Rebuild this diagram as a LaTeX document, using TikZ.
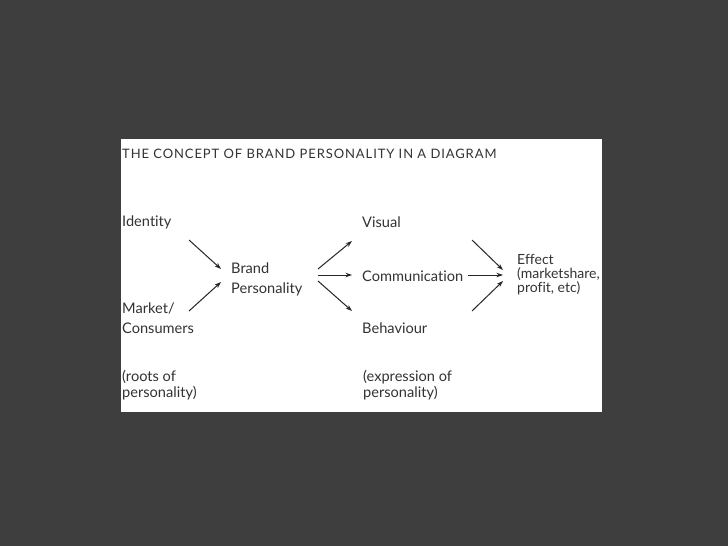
\documentclass[tikz,border=0pt]{standalone}
\usepackage{fontspec}
\setmainfont{Lato}[Ligatures=NoCommon]
\usetikzlibrary{arrows.meta}
\definecolor{slide}{HTML}{3E3E3E}
\definecolor{ink}{HTML}{333333}
\tikzset{
  lbl/.style ={anchor=base west,align=left,inner sep=0pt,text=ink,
               font=\fontsize{14.6}{20}\selectfont},
  ttl/.style ={anchor=base west,inner sep=0pt,text=ink,
               font=\fontsize{13}{14}\selectfont\addfontfeatures{LetterSpace=7}},
  a/.style   ={-{Stealth[length=6.5pt,width=4.5pt]},line width=1pt,black!85},
}

\begin{document}
\begin{tikzpicture}[x=1pt,y=-1pt]
  \fill[slide] (0,0) rectangle (728,546);
  \fill[white] (121,139) rectangle (602,412);

  % title
  \node[ttl] (title) at (122,158) {THE CONCEPT OF BRAND PERSONALITY IN A DIAGRAM};

  % roots
  \node[lbl] (ident) at (122,226) {Identity};
  \node[lbl] (market) at (122,333) {Market/\\Consumers};
  \node[lbl,font=\fontsize{14.6}{15.5}\selectfont] (roots) at (122,397) {(roots of\\personality)};

  % brand
  \node[lbl] (brand) at (231,293) {Brand\\Personality};

  % expression
  \node[lbl] (visual) at (362,227) {Visual};
  \node[lbl] (comm) at (362,281) {Communication};
  \node[lbl] (behav) at (362,333) {Behaviour};
  \node[lbl,font=\fontsize{14.6}{15.5}\selectfont] (expr) at (363,397) {(expression of\\personality)};

  % effect
  \node[lbl,font=\fontsize{14}{14}\selectfont] (effect) at (517,292) {Effect\\(marketshare,\\profit, etc)};

  % arrow ends
  \coordinate (ident-o) at (189,240);
  \coordinate (market-o) at (189,311);
  \coordinate (brand-i1) at (221,269);
  \coordinate (brand-i2) at (221,282);
  \coordinate (brand-o1) at (318,269);
  \coordinate (brand-o2) at (318,275);
  \coordinate (brand-o3) at (318,281);
  \coordinate (visual-i) at (352,241);
  \coordinate (comm-i) at (352,275);
  \coordinate (behav-i) at (352,311);
  \coordinate (visual-o) at (472,240);
  \coordinate (comm-o) at (468,275);
  \coordinate (behav-o) at (472,311);
  \coordinate (effect-i1) at (503,270);
  \coordinate (effect-i2) at (503,275);
  \coordinate (effect-i3) at (503,281);

  \draw[a] (ident-o) -- (brand-i1);
  \draw[a] (market-o) -- (brand-i2);
  \draw[a] (brand-o1) -- (visual-i);
  \draw[a] (brand-o2) -- (comm-i);
  \draw[a] (brand-o3) -- (behav-i);
  \draw[a] (visual-o) -- (effect-i1);
  \draw[a] (comm-o) -- (effect-i2);
  \draw[a] (behav-o) -- (effect-i3);
\end{tikzpicture}
\end{document}
